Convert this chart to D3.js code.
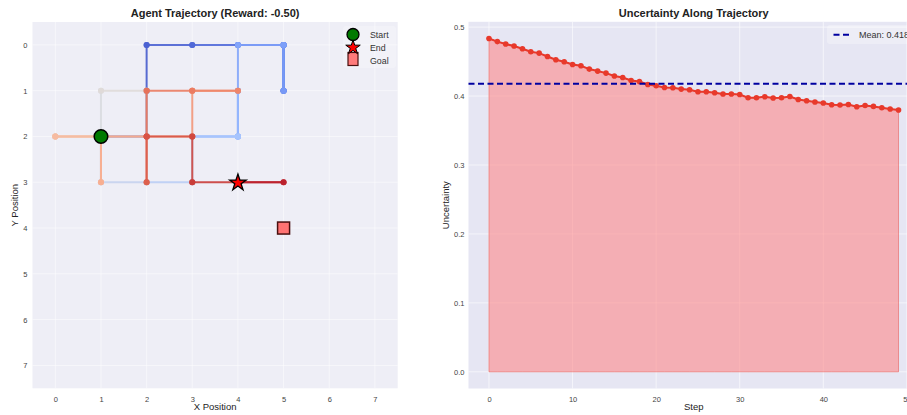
<!DOCTYPE html>
<html><head><meta charset="utf-8">
<script src="https://cdn.jsdelivr.net/npm/d3@7"></script>
<style>
html,body{margin:0;padding:0;background:#fff;overflow:hidden;}
text{font-family:"Liberation Sans",Arial,sans-serif;}
</style></head>
<body>
<svg id="chart" width="907" height="415"></svg>
<script>
// ---- data ----
const pathX = [1,2,2,2,3,4,5,5,5,5,5,5,5,4,4,4,4,4,3,4,3,3,2,1,1,1,2,2,1,0,0,1,0,1,1,1,2,3,3,4,3,2,2,2,2,3,3,4,5,4];
const pathY = [2,2,1,0,0,0,0,1,0,1,0,1,0,0,1,2,1,2,2,2,2,3,3,3,2,1,1,2,2,2,2,2,2,2,3,2,2,2,1,1,1,1,2,3,2,2,3,3,3,3];
const goal = [5,4];
const reward = -0.50;
const gridTicks = [0,1,2,3,4,5,6,7];
const steps = d3.range(50);
const uncertainty = [0.4835,0.4790,0.4754,0.4725,0.4686,0.4642,0.4623,0.4574,0.4526,0.4497,
  0.4458,0.4439,0.4391,0.4362,0.4333,0.4290,0.4270,0.4226,0.4212,0.4168,
  0.4149,0.4125,0.4120,0.4101,0.4091,0.4062,0.4062,0.4048,0.4029,0.4029,
  0.4023,0.3975,0.3975,0.3990,0.3971,0.3975,0.3994,0.3951,0.3932,0.3913,
  0.3899,0.3874,0.3870,0.3878,0.3845,0.3864,0.3850,0.3830,0.3812,0.3797];
const stepTicks = [0,10,20,30,40,50];
const uncTicks = [0.0,0.1,0.2,0.3,0.4,0.5];

// coolwarm colormap anchors
const cwStops = ["#3b4cc0","#5470de","#6f92f3","#8db0fe","#aac7fd","#dddcdc","#f2cbb7","#f7ac8e","#ee8468","#d65244","#b40426"];
const coolwarm = d3.scaleLinear().domain(d3.range(11).map(i=>i/10)).range(cwStops).interpolate(d3.interpolateLab);

const svg = d3.select("#chart");
const tickColor = "#444";

// ---------- LEFT PANEL ----------
const L = {x0:32.5, x1:397.7, y0:22, y1:388.3};
const lx = d3.scaleLinear().domain([-0.5,7.5]).range([L.x0,L.x1]);
const ly = d3.scaleLinear().domain([-0.5,7.5]).range([L.y0,L.y1]);
const gl = svg.append("g");
gl.append("rect").attr("x",L.x0).attr("y",L.y0).attr("width",L.x1-L.x0).attr("height",L.y1-L.y0).attr("fill","#eeeef6");
// grid
gl.selectAll(".gx").data(gridTicks).join("line")
  .attr("x1",d=>lx(d)).attr("x2",d=>lx(d)).attr("y1",L.y0).attr("y2",L.y1)
  .attr("stroke","#fff").attr("stroke-opacity",0.5).attr("stroke-width",1);
gl.selectAll(".gy").data(gridTicks).join("line")
  .attr("y1",d=>ly(d)).attr("y2",d=>ly(d)).attr("x1",L.x0).attr("x2",L.x1)
  .attr("stroke","#fff").attr("stroke-opacity",0.5).attr("stroke-width",1);
// axes
const lxAxis = d3.axisBottom(lx).tickValues(gridTicks).tickSize(0).tickPadding(8);
const lyAxis = d3.axisLeft(ly).tickValues(gridTicks).tickSize(0).tickPadding(5);
const gax = gl.append("g").attr("transform",`translate(0,${L.y1})`).call(lxAxis);
const gay = gl.append("g").attr("transform",`translate(${L.x0},0)`).call(lyAxis);
[gax,gay].forEach(g=>{g.select(".domain").remove(); g.selectAll("text").attr("font-size",7.5).attr("fill",tickColor).attr("font-family","Liberation Sans, Arial, sans-serif");});

// trajectory segments
const N = pathX.length;
const segs = d3.range(N-1).map(i=>({i, x1:pathX[i], y1:pathY[i], x2:pathX[i+1], y2:pathY[i+1]}));
segs.forEach(s=>{
  const c = coolwarm(s.i/(N-1));
  gl.append("line").attr("x1",lx(s.x1)).attr("y1",ly(s.y1)).attr("x2",lx(s.x2)).attr("y2",ly(s.y2))
    .attr("stroke",c).attr("stroke-width",2).attr("stroke-opacity",0.9).attr("stroke-linecap","round");
  gl.append("circle").attr("cx",lx(s.x1)).attr("cy",ly(s.y1)).attr("r",3).attr("fill",c).attr("fill-opacity",0.92);
  gl.append("circle").attr("cx",lx(s.x2)).attr("cy",ly(s.y2)).attr("r",3).attr("fill",c).attr("fill-opacity",0.92);
});
// start / end / goal
const star = d3.symbol().type(d3.symbolStar);
gl.append("circle").attr("cx",lx(pathX[0])).attr("cy",ly(pathY[0])).attr("r",6.8)
  .attr("fill","#007a00").attr("stroke","#000").attr("stroke-width",1.5);
gl.append("path").attr("d",star.size(85)()).attr("transform",`translate(${lx(pathX[N-1])},${ly(pathY[N-1])+0.5})`)
  .attr("fill","#ff0000").attr("stroke","#000").attr("stroke-width",1.3);
gl.append("rect").attr("x",lx(goal[0])-6).attr("y",ly(goal[1])-6).attr("width",12).attr("height",12)
  .attr("fill","#ff6b6b").attr("stroke","#4a1010").attr("stroke-width",1.5).attr("fill-opacity",0.95);

// legend
const lg = gl.append("g");
lg.append("rect").attr("x",343).attr("y",26).attr("width",53).attr("height",42).attr("rx",3).attr("fill","#fff").attr("fill-opacity",0.25);
lg.append("rect").attr("x",348).attr("y",52.5).attr("width",10).attr("height",13)
  .attr("fill","#ff7b7b").attr("stroke","#4a1010").attr("stroke-width",1.2);
lg.append("path").attr("d",star.size(65)()).attr("transform","translate(353,47.5)")
  .attr("fill","#ff0000").attr("stroke","#000").attr("stroke-width",1);
lg.append("circle").attr("cx",353).attr("cy",34.5).attr("r",6).attr("fill","#007a00").attr("stroke","#000").attr("stroke-width",1.3);
[["Start",34.5],["End",47.5],["Goal",61]].forEach(([t,y])=>{
  lg.append("text").attr("x",370).attr("y",y+3.2).attr("font-size",8.8).attr("fill","#333").text(t);
});

// title & labels
gl.append("text").attr("x",(L.x0+L.x1)/2).attr("y",17).attr("text-anchor","middle").attr("font-size",11)
  .attr("font-weight","bold").attr("fill","#222").text(`Agent Trajectory (Reward: ${reward.toFixed(2)})`);
gl.append("text").attr("x",(L.x0+L.x1)/2).attr("y",410).attr("text-anchor","middle").attr("font-size",9.5).attr("fill","#222").text("X Position");
gl.append("text").attr("transform",`translate(18,${(L.y0+L.y1)/2}) rotate(-90)`).attr("text-anchor","middle").attr("font-size",9.5).attr("fill","#222").text("Y Position");

// ---------- RIGHT PANEL ----------
const R = {x0:468.5, x1:919, y0:21.8, y1:388.5};
const rx = d3.scaleLinear().domain([-2.45,51.45]).range([R.x0,R.x1]);
const ry = d3.scaleLinear().domain([-0.0242,0.5077]).range([R.y1,R.y0]);
const gr = svg.append("g");
gr.append("rect").attr("x",R.x0).attr("y",R.y0).attr("width",R.x1-R.x0).attr("height",R.y1-R.y0).attr("fill","#e6e6f3");
gr.selectAll(".gx").data(stepTicks).join("line")
  .attr("x1",d=>rx(d)).attr("x2",d=>rx(d)).attr("y1",R.y0).attr("y2",R.y1)
  .attr("stroke","#fff").attr("stroke-opacity",0.6).attr("stroke-width",1);
gr.selectAll(".gy").data(uncTicks).join("line")
  .attr("y1",d=>ry(d)).attr("y2",d=>ry(d)).attr("x1",R.x0).attr("x2",R.x1)
  .attr("stroke","#fff").attr("stroke-opacity",0.6).attr("stroke-width",1);
const rxAxis = d3.axisBottom(rx).tickValues(stepTicks).tickSize(0).tickPadding(8);
const ryAxis = d3.axisLeft(ry).tickValues(uncTicks).tickFormat(d3.format(".1f")).tickSize(0).tickPadding(4);
const grx = gr.append("g").attr("transform",`translate(0,${R.y1})`).call(rxAxis);
const gry = gr.append("g").attr("transform",`translate(${R.x0},0)`).call(ryAxis);
[grx,gry].forEach(g=>{g.select(".domain").remove(); g.selectAll("text").attr("font-size",7.5).attr("fill",tickColor).attr("font-family","Liberation Sans, Arial, sans-serif");});

const area = d3.area().x((d,i)=>rx(steps[i])).y0(ry(0)).y1(d=>ry(d));
gr.append("path").datum(uncertainty).attr("d",area).attr("fill","#ff7f7f").attr("fill-opacity",0.55)
  .attr("stroke","#e8504a").attr("stroke-opacity",0.5).attr("stroke-width",1);
const line = d3.line().x((d,i)=>rx(steps[i])).y(d=>ry(d));
gr.append("path").datum(uncertainty).attr("d",line).attr("fill","none").attr("stroke","#e8392b").attr("stroke-width",2);
gr.selectAll(".pt").data(uncertainty).join("circle").attr("cx",(d,i)=>rx(steps[i])).attr("cy",d=>ry(d)).attr("r",2.8).attr("fill","#e8392b");

const meanVal = d3.mean(uncertainty);
gr.append("line").attr("x1",R.x0).attr("x2",R.x1).attr("y1",ry(meanVal)).attr("y2",ry(meanVal))
  .attr("stroke","#0000a0").attr("stroke-width",2).attr("stroke-dasharray","6,3.5");

// legend
gr.append("rect").attr("x",827).attr("y",25).attr("width",100).attr("height",19).attr("rx",3).attr("fill","#fff").attr("fill-opacity",0.3);
gr.append("line").attr("x1",833.5).attr("x2",851.5).attr("y1",34.7).attr("y2",34.7).attr("stroke","#0000a0").attr("stroke-width",2).attr("stroke-dasharray","6,3.5");
gr.append("text").attr("x",859).attr("y",37.8).attr("font-size",9).attr("fill","#333").text(`Mean: ${meanVal.toFixed(3)}`);

gr.append("text").attr("x",(R.x0+R.x1)/2).attr("y",17).attr("text-anchor","middle").attr("font-size",11)
  .attr("font-weight","bold").attr("fill","#222").text("Uncertainty Along Trajectory");
gr.append("text").attr("x",693.7).attr("y",410).attr("text-anchor","middle").attr("font-size",9.5).attr("fill","#222").text("Step");
gr.append("text").attr("transform",`translate(449,${(R.y0+R.y1)/2}) rotate(-90)`).attr("text-anchor","middle").attr("font-size",9.5).attr("fill","#222").text("Uncertainty");
</script>
</body></html>
